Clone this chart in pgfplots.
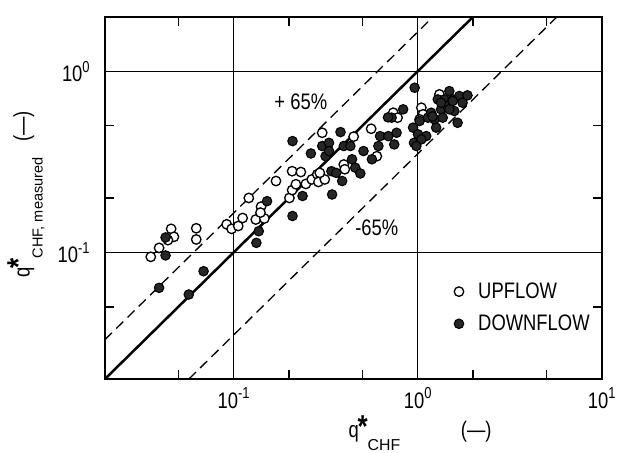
\documentclass[border=0pt]{standalone}
\usepackage{fontspec}
\setmainfont{Liberation Sans}[FakeStretch=0.82]
\newfontfamily\subf{Liberation Sans}
\usepackage{pgfplots}
\pgfplotsset{compat=1.18}
\newcommand\bigf{\fontsize{17}{20}\selectfont}
\newcommand\pw[1]{10\raisebox{0.8ex}{\fontsize{12}{14}\selectfont #1}}
\newcommand\qlab[2]{q\kern-1pt\raisebox{0.5pt}{\fontsize{24}{24}\selectfont\bfseries *}\raisebox{-9.8pt}{\subf\fontsize{#1}{14}\selectfont #2}}
\begin{document}
\begin{tikzpicture}
\begin{axis}[
 xmode=log, ymode=log,
 scale only axis, width=376.5pt, height=274.5pt,
 xmin=0.02, xmax=10, ymin=0.02, ymax=2,
 xtick={0.1,1,10}, xticklabels={\pw{-1},\pw{0},\pw{1}},
 ytick={0.1,1}, yticklabels={\pw{-1},\pw{0}},
 minor xtick={0.05,0.2,0.5,2,5}, minor ytick={0.05,0.2,0.5},
 tick align=inside, major tick length=0pt, minor tick length=7pt,
 grid=major, major grid style={black, line width=0.7pt},
 axis line style={line width=1.4pt},
 every tick/.style={black, line width=0.9pt},
 tick label style={font=\bigf},
 xticklabel style={yshift=-3pt},
 yticklabel style={xshift=-8pt},
 xlabel={\qlab{12}{CHF}\hspace{46pt}(---)},
 xlabel style={at={(axis description cs:0.49,-0.149)}, anchor=west, inner sep=0pt, font=\bigf},
 ylabel={\qlab{11}{CHF, measured}\hspace{12pt}(---)},
 ylabel style={at={(axis description cs:-0.159,0.28)}, anchor=west, inner sep=0pt, font=\bigf},
 legend style={draw=none, fill=none, font=\bigf, at={(axis description cs:0.842,0.197)}, anchor=center, row sep=7pt, cells={anchor=west}},
]
\addplot[only marks, mark=*, mark size=3.6pt, mark options={draw=black, fill=white, line width=1pt}] coordinates {
(0.0355,0.0946)(0.0394,0.106)(0.0458,0.135)(0.0474,0.122)(0.044,0.117)
(0.0627,0.136)(0.0627,0.118)(0.0917,0.143)(0.0976,0.135)(0.106,0.140)
(0.112,0.155)(0.121,0.200)(0.132,0.152)(0.141,0.179)(0.147,0.154)
(0.140,0.166)(0.170,0.248)(0.201,0.200)(0.208,0.281)(0.208,0.221)
(0.218,0.238)(0.232,0.278)(0.247,0.239)(0.266,0.253)(0.285,0.270)
(0.289,0.245)(0.303,0.458)(0.313,0.253)(0.294,0.275)(0.397,0.306)
(0.402,0.288)(0.449,0.436)(0.559,0.482)(0.600,0.340)(0.737,0.591)
(0.778,0.555)(1.047,0.630)(1.069,0.579)(1.313,0.746)(1.025,0.543)
};
\addlegendentry{\hspace{9pt}UPFLOW}
\addplot[only marks, mark=*, mark size=3.6pt, mark options={draw=black, fill=black!85, line width=0.8pt}] coordinates {
(0.0427,0.121)(0.0427,0.0963)(0.0394,0.0638)(0.0571,0.0586)(0.0687,0.0788)
(0.133,0.113)(0.137,0.131)(0.152,0.192)(0.209,0.412)(0.209,0.159)
(0.237,0.205)(0.263,0.352)(0.303,0.387)(0.316,0.340)(0.330,0.403)
(0.343,0.209)(0.340,0.281)(0.361,0.275)(0.381,0.462)(0.389,0.248)
(0.397,0.387)(0.431,0.387)(0.440,0.327)(0.458,0.294)(0.488,0.273)
(0.508,0.363)(0.564,0.327)(0.625,0.439)(0.612,0.387)(0.693,0.439)
(0.722,0.555)(0.746,0.395)(0.768,0.458)(0.834,0.617)(0.944,0.489)
(0.963,0.812)(0.955,0.403)(1.004,0.449)(1.025,0.532)(1.113,0.439)
(1.137,0.555)(1.234,0.543)(1.260,0.489)(1.286,0.700)(1.340,0.617)
(1.397,0.700)(1.456,0.643)(1.486,0.778)(1.549,0.700)(1.581,0.604)
(1.683,0.731)(1.753,0.671)(1.648,0.520)(1.865,0.737)(1.368,0.555)
(1.184,0.591)(1.047,0.421)(0.984,0.387)(0.690,0.557)(0.330,0.363)
(1.205,0.564)(1.340,0.671)(1.486,0.617)(1.549,0.686)
};
\addlegendentry{\hspace{9pt}DOWNFLOW}
\addplot[forget plot, black, line width=1.9pt] coordinates {(0.02,0.02)(2,2)};
\addplot[forget plot, black, line width=1pt, dash pattern=on 7.5pt off 4.5pt] coordinates {(0.02,0.033)(1.2121,2)};
\addplot[forget plot, black, line width=1pt, dash pattern=on 7.5pt off 4.5pt] coordinates {(0.05714,0.02)(5.714,2)};
\node[font=\bigf] at (axis cs:0.232,0.682) {+\hspace{4pt}65\%};
\node[font=\bigf] at (axis cs:0.600,0.137) {-65\%};
\end{axis}
\path ([xshift=-79.5pt,yshift=-55.5pt]current axis.south west) rectangle ([xshift=9pt,yshift=12.75pt]current axis.north east);
\end{tikzpicture}
\end{document}
